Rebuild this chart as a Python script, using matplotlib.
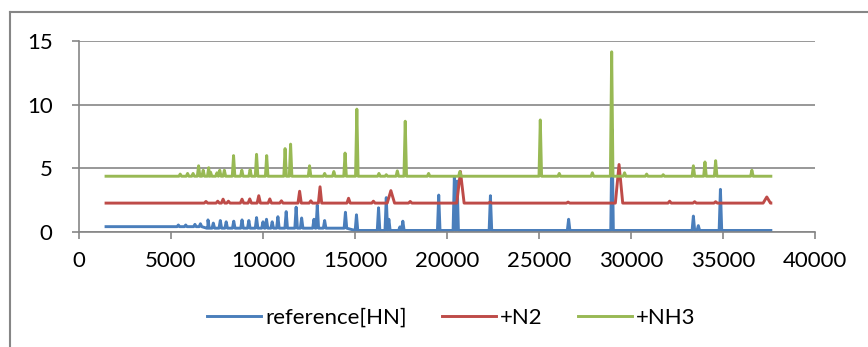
import numpy as np
import matplotlib
matplotlib.use("Agg")
import matplotlib.pyplot as plt
from matplotlib.lines import Line2D

plt.rcParams['font.family'] = ['Lato', 'DejaVu Sans']

X_START = 1470
X_END = 37600

# reference[HN] : baseline levels (step), peak positions and heights
hn_base_x = [X_START, 7000, 15000]
hn_base_y = [0.42, 0.30, 0.12]
hn_peak_x = [5400, 5800, 6300, 6600, 7010, 7300, 7680, 8000, 8410, 8860, 9230, 9650,
             10000, 10190, 10500, 10810, 11260, 11800, 12100, 12770, 12950, 13350,
             14480, 15080, 16280, 16700, 16840, 17440, 17600, 19550, 20400, 20550,
             22360, 26610, 28970, 33390, 33660, 34860]
hn_peak_y = [0.55, 0.55, 0.6, 0.65, 0.95, 0.7, 0.9, 0.8, 0.85, 0.95, 0.9, 1.13,
             0.8, 1.0, 0.8, 1.2, 1.6, 1.95, 1.1, 1.0, 2.1, 0.9,
             1.55, 1.35, 1.9, 2.7, 1.0, 0.4, 0.85, 2.9, 4.35, 4.0,
             2.85, 1.0, 8.05, 1.25, 0.5, 3.35]

# +N2
n2_base_x = [X_START]
n2_base_y = [2.27]
n2_peak_x = [6900, 7540, 7830, 8120, 8860, 9280, 9770, 10370, 11000, 11990, 12600,
             13100, 14650, 16000, 18000, 22340, 26580, 32100, 33460, 34600]
n2_peak_y = [2.4, 2.42, 2.58, 2.42, 2.58, 2.6, 2.85, 2.6, 2.45, 3.2, 2.45,
             3.55, 2.65, 2.42, 2.4, 2.35, 2.35, 2.42, 2.38, 2.38]
n2_broad_x = [16950, 20730, 29350, 37380]
n2_broad_y = [3.25, 4.75, 5.3, 2.75]

# +NH3
nh3_base_x = [X_START]
nh3_base_y = [4.38]
nh3_peak_x = [5500, 5900, 6200, 6500, 6750, 7050, 7150, 7500, 7650, 7900, 8400, 8850,
              9300, 9650, 10200, 11200, 11500, 12530, 13350, 13850, 14460, 15100,
              16300, 16700, 17300, 17730, 19000, 20700, 25070, 26100, 27900, 28950,
              29650, 30850, 31750, 33390, 34020, 34600, 36570]
nh3_peak_y = [4.55, 4.6, 4.6, 5.2, 4.85, 5.05, 4.7, 4.65, 4.85, 4.85, 6.0, 4.85,
              4.9, 6.1, 6.0, 6.55, 6.9, 5.2, 4.6, 4.75, 6.2, 9.65,
              4.6, 4.5, 4.8, 8.7, 4.6, 4.75, 8.8, 4.6, 4.65, 14.15,
              4.65, 4.55, 4.5, 5.2, 5.5, 5.6, 4.85]

series_names = ['reference[HN]', '+N2', '+NH3']
colors = ['#4A7EBB', '#BE4B48', '#98B954']


def build_line(base_x, base_y, peaks, end):
    # baseline anchors plus a narrow spike for every peak
    pts = [(x, y) for x, y in zip(base_x, base_y)]
    pts.append((end, base_y[-1]))
    for px, py, half in peaks:
        level = base_y[np.searchsorted(base_x, px, side='right') - 1]
        pts += [(px - half, level), (px, py), (px + half, level)]
    pts.sort()
    xs, ys = zip(*pts)
    return np.array(xs), np.array(ys)


def peaks_of(xs, ys, half):
    return [(x, y, half) for x, y in zip(xs, ys)]


hn = build_line(hn_base_x, hn_base_y, peaks_of(hn_peak_x, hn_peak_y, 70), X_END)
n2 = build_line(n2_base_x, n2_base_y,
                peaks_of(n2_peak_x, n2_peak_y, 90) + peaks_of(n2_broad_x, n2_broad_y, 200),
                X_END)
nh3 = build_line(nh3_base_x, nh3_base_y, peaks_of(nh3_peak_x, nh3_peak_y, 70), X_END)

fig = plt.figure(figsize=(8.68, 3.47), dpi=100)
ax = fig.add_axes([79 / 868, 1 - 232 / 347, (815 - 79) / 868, (232 - 41) / 347])

for (xs, ys), name, c in zip([hn, n2, nh3], series_names, colors):
    ax.plot(xs, ys, color=c, lw=2.1, label=name, solid_joinstyle='round')

grid_c = '#868686'
ax.set_xlim(0, 40000)
ax.set_ylim(0, 15)
ax.set_xticks(np.arange(0, 40001, 5000))
ax.set_yticks([0, 5, 10, 15])
ax.yaxis.grid(True, color=grid_c, lw=1.2)
ax.set_axisbelow(True)
for s in ['top', 'right']:
    ax.spines[s].set_visible(False)
for s in ['left', 'bottom']:
    ax.spines[s].set_color(grid_c)
    ax.spines[s].set_linewidth(1.2)
ax.tick_params(axis='both', colors=grid_c, labelcolor='black', labelsize=16,
               length=5, width=1.2, direction='out')
ax.tick_params(axis='x', pad=9)
ax.tick_params(axis='y', pad=14)

# chart area border (left and top edges visible)
fig.add_artist(Line2D([10 / 868, 10 / 868], [0, 1 - 12 / 347], color=grid_c, lw=1.5))
fig.add_artist(Line2D([10 / 868, 1], [1 - 12 / 347, 1 - 12 / 347], color=grid_c, lw=1.5))

fig.legend(loc='center', bbox_to_anchor=(0.52, 1 - 318 / 347), ncol=3, frameon=False,
           fontsize=16, handlelength=2.4, columnspacing=1.6, handletextpad=0.2)

fig.savefig('out.png', dpi=100)
